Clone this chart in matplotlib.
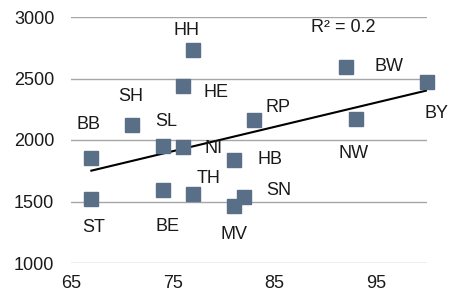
import numpy as np
import matplotlib
matplotlib.use("Agg")
import matplotlib.pyplot as plt

plt.rcParams["font.family"] = ["Liberation Sans", "DejaVu Sans"]

# state labels with x / y values
labels = ["HH", "HE", "SH", "SL", "BB", "NI", "HB", "TH", "SN",
          "BE", "MV", "ST", "RP", "NW", "BW", "BY"]
x_vals = [77, 76, 71, 74, 67, 76, 81, 77, 82, 74, 81, 67, 83, 93, 92, 100]
y_vals = [2730, 2440, 2125, 1950, 1850, 1940, 1840, 1560, 1540,
          1595, 1460, 1520, 2160, 2170, 2595, 2470]
r2_text = "R² = 0.2"

# label offsets in pixels (dx right, dy down), like excel data labels
offsets = {
    "HH": (-7, -20), "HE": (33, 7), "SH": (-1, -28), "SL": (4, -25),
    "BB": (-3, -34), "NI": (31, 1), "HB": (36, 0), "TH": (16, -16),
    "SN": (35, -6), "BE": (5, 37), "MV": (0, 28), "ST": (2, 28),
    "RP": (24, -13), "NW": (-2, 34), "BW": (43, 0), "BY": (10, 31),
}

fs = 13

fig = plt.figure(figsize=(4.49, 2.92), dpi=100)
ax = fig.add_axes([71 / 449, 29 / 292, 356 / 449, 246 / 292])

ax.set_xlim(65, 100)
ax.set_ylim(1000, 3000)
ax.set_xticks([65, 75, 85, 95])
ax.set_yticks([1000, 1500, 2000, 2500, 3000])
ax.grid(axis="y", color="#a6a6a6", linewidth=1.0)
ax.set_axisbelow(True)
for s in ax.spines.values():
    s.set_visible(False)
ax.tick_params(length=0, labelsize=fs, labelcolor="#1a1a1a")
ax.tick_params(axis="y", pad=12)
ax.tick_params(axis="x", pad=9)

# linear trend line
xs = np.array(x_vals, dtype=float)
ys = np.array(y_vals, dtype=float)
k, b = np.polyfit(xs, ys, 1)
xt = np.array([xs.min(), xs.max()])
ax.plot(xt, k * xt + b, color="black", linewidth=1.5, zorder=2)

ax.plot(xs, ys, linestyle="none", marker="s", markersize=10.5,
        color="#596e87", zorder=3, clip_on=False)

for lab, x, y in zip(labels, x_vals, y_vals):
    dx, dy = offsets[lab]
    ax.annotate(lab, (x, y), xytext=(dx, -dy), textcoords="offset pixels",
                ha="center", va="center", fontsize=fs, color="#1a1a1a",
                annotation_clip=False)

ax.text(343 / 449, 264 / 292, r2_text, transform=fig.transFigure,
        ha="center", va="center", fontsize=fs, color="#1a1a1a")

fig.savefig("out.png", dpi=100)
